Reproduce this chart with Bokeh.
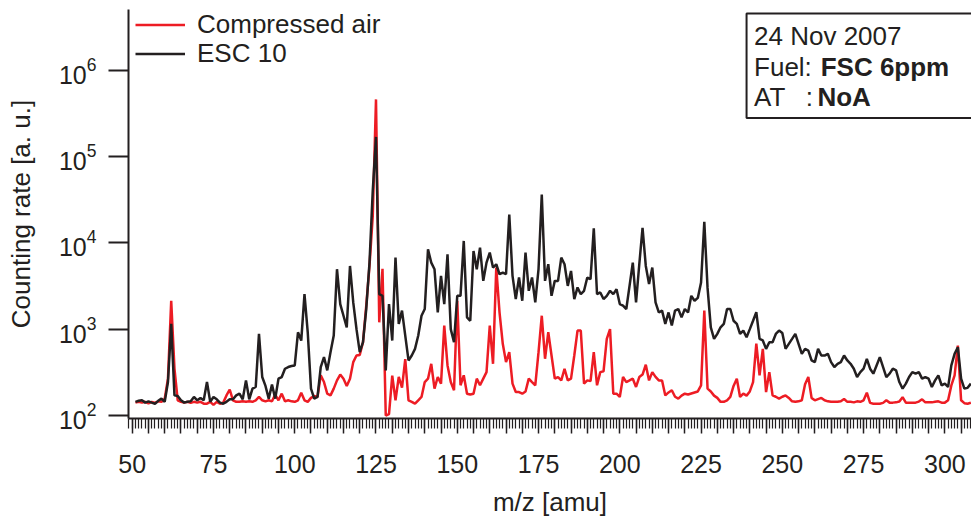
from bokeh.plotting import figure
from bokeh.models import (FixedTicker, LinearAxis, Legend, LegendItem, BoxAnnotation,
                          Label, Range1d)
from bokeh.embed import file_html
from bokeh.resources import INLINE

mz = list(range(51, 309))

compressed_air = [
    141, 144, 141, 144, 138, 144, 140, 146, 144, 157,
    267, 2130, 350, 150, 144, 141, 144, 140, 144, 141,
    144, 137, 137, 144, 133, 144, 137, 141, 171, 200,
    150, 144, 144, 146, 144, 146, 144, 150, 164, 150,
    146, 150, 146, 175, 150, 179, 146, 150, 146, 144,
    150, 183, 150, 144, 160, 168, 164, 292, 244, 179,
    171, 205, 255, 298, 267, 220, 267, 415, 495, 503,
    706, 1870, 5390, 20300, 457000, 1200, 5000, 100, 104, 290,
    150, 280, 210, 450, 150, 144, 137, 150, 164, 244,
    267, 397, 205, 279, 234, 1100, 380, 244, 196, 2130,
    224, 292, 179, 175, 179, 267, 224, 267, 318, 1100,
    397, 5160, 1560, 676, 415, 541, 234, 187, 187, 179,
    190, 267, 244, 224, 541, 1430, 454, 920, 495, 267,
    279, 255, 348, 255, 267, 495, 962, 962, 234, 255,
    250, 541, 224, 318, 325, 771, 1000, 179, 179, 164,
    279, 244, 255, 267, 214, 279, 298, 388, 255, 318,
    280, 255, 255, 171, 185, 196, 165, 157, 170, 179,
    175, 180, 185, 190, 223, 1640, 205, 190, 170, 160,
    144, 144, 150, 164, 220, 267, 164, 179, 170, 190,
    244, 678, 292, 591, 187, 318, 171, 165, 157, 165,
    171, 160, 146, 144, 146, 150, 230, 279, 160, 150,
    155, 160, 150, 146, 144, 144, 144, 146, 155, 144,
    144, 142, 146, 144, 150, 184, 140, 137, 137, 137,
    140, 150, 141, 141, 142, 145, 163, 141, 141, 141,
    141, 145, 154, 142, 142, 142, 144, 146, 141, 141,
    150, 223, 292, 646, 150, 139, 137, 141,
]

esc10 = [
    144, 148, 150, 141, 146, 141, 137, 148, 157, 144,
    244, 1150, 171, 168, 150, 141, 144, 146, 164, 150,
    160, 150, 244, 144, 164, 154, 141, 137, 144, 154,
    154, 171, 179, 154, 255, 154, 205, 214, 881, 279,
    220, 157, 228, 157, 267, 279, 348, 364, 374, 380,
    920, 738, 2540, 920, 205, 157, 164, 364, 474, 333,
    541, 843, 4940, 1950, 1430, 1050, 5390, 2040, 1000, 541,
    706, 1710, 5890, 40000, 168000, 2540, 2430, 333, 1950, 738,
    6730, 1150, 1640, 843, 434, 495, 591, 843, 1430, 1710,
    8390, 5890, 4940, 1560, 4140, 1950, 7350, 1000, 706, 2430,
    2430, 10500, 1370, 1250, 8030, 4940, 8780, 3620, 5890, 7690,
    5160, 5640, 4320, 4520, 4320, 21200, 4140, 2230, 3960, 2130,
    7690, 2780, 3960, 2040, 4940, 36100, 3620, 5640, 2430, 3620,
    3620, 6730, 5640, 3170, 4720, 2230, 3040, 2540, 2780, 3960,
    3790, 14700, 2540, 2660, 2230, 2430, 2780, 2540, 2900, 1950,
    1870, 1710, 3170, 5890, 2040, 5640, 14900, 5390, 3320, 5160,
    2040, 1560, 1640, 1150, 1560, 1100, 1640, 1710, 1370, 1710,
    1560, 2430, 2130, 2300, 3470, 17500, 3000, 1050, 771, 881,
    1050, 1150, 1710, 1710, 1250, 1150, 881, 962, 807, 1000,
    1250, 1570, 773, 740, 591, 706, 706, 880, 962, 900,
    591, 676, 771, 881, 676, 518, 591, 565, 434, 415,
    591, 495, 495, 518, 415, 364, 397, 415, 495, 434,
    397, 348, 279, 318, 348, 454, 348, 305, 380, 474,
    364, 279, 305, 348, 333, 244, 205, 234, 279, 318,
    305, 318, 267, 279, 267, 214, 255, 292, 224, 234,
    214, 380, 518, 618, 267, 205, 209, 234,
]

x_labelled_ticks = [50, 75, 100, 125, 150, 175, 200, 225, 250, 275, 300]
x_mid_ticks = list(range(50, 310, 5))
x_minor_ticks = list(range(49, 309))
y_ticks = [1e2, 1e3, 1e4, 1e5, 1e6]

FONT = "Liberation Sans"
INK = "#231f20"
RED = "#ed1c24"

Y0, Y1 = 92.35, 5.02e6

p = figure(width=971, height=519, y_axis_type="log",
           x_range=Range1d(48.86, 308.2), y_range=Range1d(Y0, Y1),
           output_backend="svg", toolbar_location=None,
           min_border_left=128, min_border_right=0,
           min_border_top=9, min_border_bottom=99)
p.outline_line_color = None
p.grid.visible = False
p.background_fill_color = "white"

r_air = p.line(mz, compressed_air, line_color=RED, line_width=2.5)
r_esc = p.line(mz, esc10, line_color=INK, line_width=2.5)

# x axis: major ticks every 5 (labels only every 25), minor every 1
xa = p.xaxis[0]
xa.ticker = FixedTicker(ticks=x_mid_ticks, minor_ticks=x_minor_ticks)
xa.major_label_overrides = {t: "" for t in x_mid_ticks if t not in x_labelled_ticks}
xa.major_tick_out = 15
xa.major_tick_in = 0
xa.minor_tick_out = 10
xa.minor_tick_in = 0
xa.major_tick_line_width = 1.5
xa.minor_tick_line_width = 1.2
xa.major_tick_line_color = INK
xa.minor_tick_line_color = INK
xa.axis_line_width = 2
xa.axis_line_color = INK
xa.major_label_text_font = FONT
xa.major_label_text_font_size = "25px"
xa.major_label_text_color = INK
xa.major_label_standoff = 21
xa.axis_label = "m/z [amu]"
xa.axis_label_text_font = FONT
xa.axis_label_text_font_size = "26px"
xa.axis_label_text_font_style = "normal"
xa.axis_label_text_color = INK
xa.axis_label_standoff = 11

# long ticks every 25 units, drawn at the frame bottom
long_ticks = LinearAxis(ticker=FixedTicker(ticks=x_labelled_ticks), fixed_location=Y0,
                        major_tick_in=20, major_tick_out=0, major_tick_line_width=2,
                        major_tick_line_color=INK, minor_tick_line_color=None,
                        axis_line_color=None, major_label_text_font_size="1px",
                        major_label_text_alpha=0, major_label_standoff=0)
p.add_layout(long_ticks, "above")

# y axis
ya = p.yaxis[0]
ya.ticker = FixedTicker(ticks=y_ticks)
ya.major_tick_out = 20
ya.major_tick_in = 0
ya.major_tick_line_width = 2
ya.major_tick_line_color = INK
ya.minor_tick_line_color = None
ya.axis_line_width = 2
ya.axis_line_color = INK
ya.major_label_text_font = FONT
ya.major_label_text_font_size = "25px"
ya.major_label_text_color = INK
ya.major_label_standoff = 12
ya.axis_label = "Counting rate [a. u.]"
ya.axis_label_text_font = FONT
ya.axis_label_text_font_size = "26px"
ya.axis_label_text_font_style = "normal"
ya.axis_label_text_color = INK
ya.axis_label_standoff = 20

legend_style = dict(padding=0, margin=0, spacing=0,
                    glyph_width=50, glyph_height=27, label_height=27,
                    label_standoff=12, border_line_color=None,
                    background_fill_alpha=0,
                    label_text_font=FONT, label_text_font_size="26px",
                    label_text_color=INK)
legend_air = Legend(items=[LegendItem(label="Compressed air", renderers=[r_air])],
                    location=(7, 378), **legend_style)
legend_esc = Legend(items=[LegendItem(label="ESC 10", renderers=[r_esc])],
                    location=(7, 349), **legend_style)
p.add_layout(legend_air, "center")
p.add_layout(legend_esc, "center")

box = BoxAnnotation(left=239.0, right=340, bottom=10**5.445, top=10**6.654,
                    fill_color="white", fill_alpha=1.0,
                    line_color=INK, line_alpha=1.0, line_width=2)
p.add_layout(box)

def txt(x, y, s, bold=False):
    p.add_layout(Label(x=x, y=y, text=s, text_font=FONT, text_font_size="26px",
                       text_color=INK, text_baseline="alphabetic",
                       text_font_style="bold" if bold else "normal"))

txt(241.3, 2.45e6, "24 Nov 2007")
txt(241.3, 1.09e6, "Fuel:")
txt(261.8, 1.09e6, "FSC 6ppm", bold=True)
txt(241.3, 4.87e5, "AT")
txt(257.2, 4.87e5, ":")
txt(260.8, 4.87e5, "NoA", bold=True)

open("out.html", "w").write(file_html(p, INLINE))
